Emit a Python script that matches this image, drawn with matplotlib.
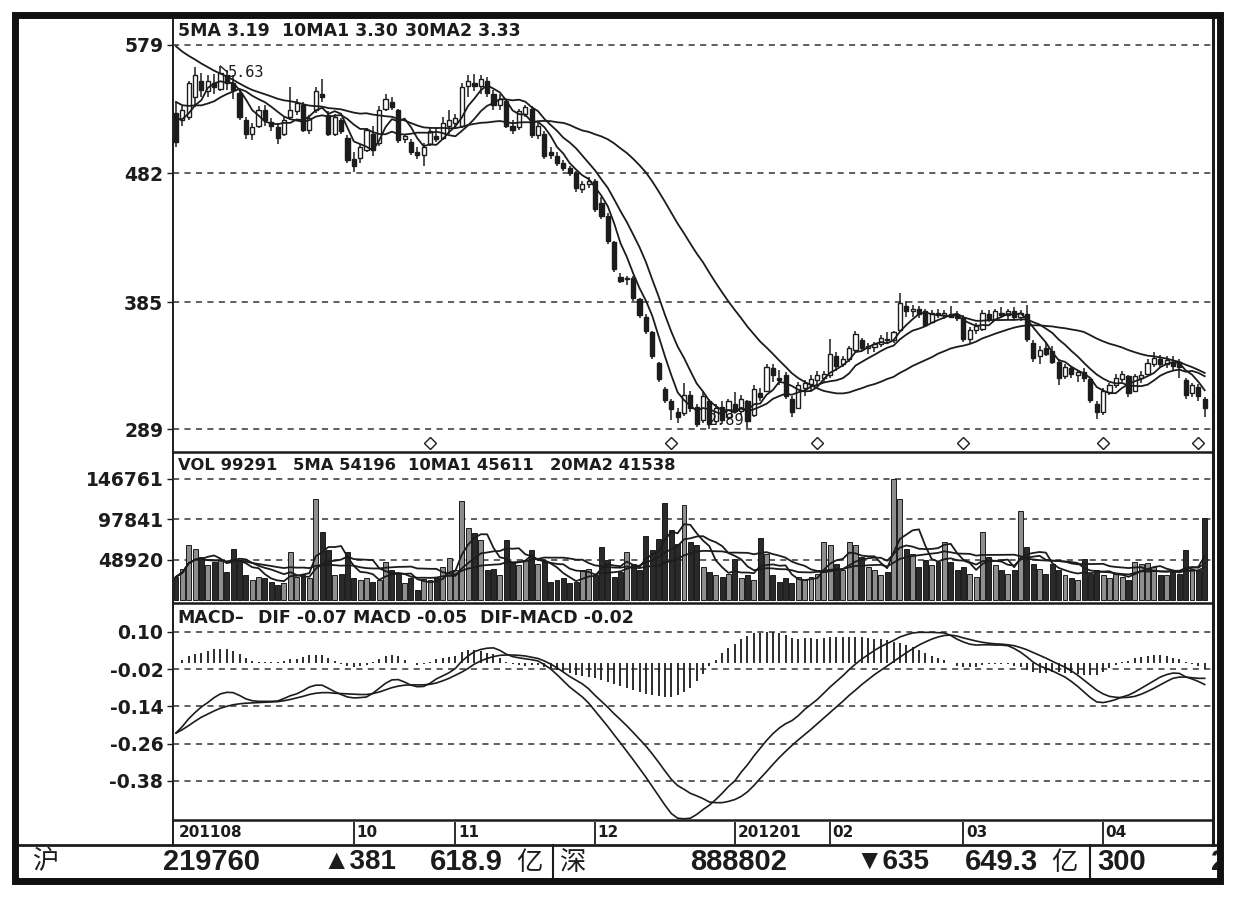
import numpy as np
import pandas as pd
import matplotlib
matplotlib.use("Agg")
import matplotlib.pyplot as plt
from matplotlib.patches import Rectangle

plt.rcParams["font.family"] = ["DejaVu Sans", "Noto Sans CJK SC"]

# -------------------------------------------------
# Data
# -------------------------------------------------

# closes before the visible window, only used to seed the moving averages
pre_close = [6.50, 6.45, 6.40, 6.36, 6.32, 6.28, 6.24, 6.20, 6.15, 6.10,
             5.90, 5.85, 5.78, 5.72, 5.66, 5.62, 5.58, 5.50,
             5.60, 5.58, 5.55, 5.55, 5.52,
             5.45, 5.38, 5.30, 5.28, 5.26, 5.25]

open_ = [5.28, 5.22, 5.25, 5.40, 5.52, 5.44, 5.50, 5.46, 5.56, 5.50,
         5.43, 5.22, 5.12, 5.18, 5.30, 5.21, 5.17, 5.12, 5.25, 5.29,
         5.34, 5.15, 5.30, 5.42, 5.26, 5.12, 5.22, 5.09, 4.93, 4.94,
         5.00, 5.12, 5.05, 5.31, 5.36, 5.30, 5.08, 5.06, 4.98, 4.96,
         5.04, 5.10, 5.09, 5.18, 5.20, 5.18, 5.48, 5.50, 5.48, 5.52,
         5.42, 5.34, 5.37, 5.18, 5.17, 5.27, 5.31, 5.11, 5.12, 4.98,
         4.95, 4.90, 4.86, 4.82, 4.70, 4.74, 4.76, 4.60, 4.50, 4.30,
         4.04, 4.02, 4.03, 3.87, 3.74, 3.62, 3.39, 3.19, 3.10, 3.02,
         3.01, 3.15, 3.06, 2.96, 3.10, 2.95, 3.06, 2.98, 3.08, 3.03,
         3.10, 3.00, 3.16, 3.18, 3.35, 3.28, 3.30, 3.12, 3.05, 3.20,
         3.23, 3.26, 3.28, 3.30, 3.44, 3.38, 3.42, 3.49, 3.56, 3.50,
         3.51, 3.53, 3.57, 3.56, 3.64, 3.82, 3.78, 3.80, 3.78, 3.70,
         3.77, 3.75, 3.76, 3.75, 3.73, 3.57, 3.64, 3.65, 3.76, 3.72,
         3.77, 3.75, 3.78, 3.74, 3.76, 3.54, 3.44, 3.50, 3.48, 3.40,
         3.29, 3.35, 3.30, 3.32, 3.27, 3.08, 3.02, 3.17, 3.22, 3.27,
         3.29, 3.18, 3.28, 3.31, 3.38, 3.42, 3.38, 3.40, 3.40, 3.26,
         3.16, 3.21, 3.12]

high = [5.36, 5.33, 5.52, 5.62, 5.58, 5.56, 5.57, 5.63, 5.60, 5.56,
        5.45, 5.25, 5.20, 5.33, 5.34, 5.24, 5.20, 5.25, 5.47, 5.38,
        5.36, 5.26, 5.47, 5.53, 5.29, 5.27, 5.24, 5.11, 4.98, 5.04,
        5.16, 5.18, 5.33, 5.42, 5.40, 5.31, 5.12, 5.08, 5.02, 5.05,
        5.16, 5.17, 5.25, 5.30, 5.27, 5.50, 5.56, 5.57, 5.56, 5.55,
        5.45, 5.42, 5.38, 5.22, 5.31, 5.34, 5.33, 5.20, 5.14, 5.02,
        4.98, 4.92, 4.88, 4.84, 4.76, 4.79, 4.78, 4.64, 4.52, 4.31,
        4.07, 4.05, 4.05, 3.88, 3.76, 3.63, 3.40, 3.21, 3.12, 3.05,
        3.24, 3.18, 3.08, 3.17, 3.12, 3.08, 3.10, 3.12, 3.17, 3.15,
        3.11, 3.22, 3.20, 3.38, 3.38, 3.34, 3.32, 3.14, 3.25, 3.26,
        3.30, 3.33, 3.33, 3.57, 3.47, 3.44, 3.52, 3.63, 3.58, 3.54,
        3.55, 3.60, 3.62, 3.63, 3.92, 3.86, 3.83, 3.82, 3.80, 3.79,
        3.80, 3.79, 3.82, 3.78, 3.75, 3.66, 3.69, 3.79, 3.79, 3.80,
        3.81, 3.80, 3.81, 3.79, 3.83, 3.56, 3.52, 3.55, 3.52, 3.42,
        3.38, 3.37, 3.34, 3.35, 3.28, 3.10, 3.20, 3.24, 3.31, 3.33,
        3.30, 3.31, 3.33, 3.42, 3.47, 3.45, 3.44, 3.44, 3.42, 3.28,
        3.24, 3.23, 3.13]

low = [5.02, 5.18, 5.22, 5.32, 5.40, 5.40, 5.42, 5.44, 5.45, 5.38,
       5.22, 5.08, 5.07, 5.16, 5.18, 5.14, 5.04, 5.10, 5.22, 5.26,
       5.13, 5.12, 5.28, 5.36, 5.10, 5.10, 5.12, 4.90, 4.83, 4.90,
       4.98, 4.95, 5.03, 5.29, 5.30, 5.05, 5.05, 4.96, 4.93, 4.88,
       5.03, 5.06, 5.07, 5.12, 5.16, 5.16, 5.40, 5.44, 5.42, 5.40,
       5.30, 5.30, 5.16, 5.12, 5.15, 5.25, 5.09, 5.08, 4.93, 4.93,
       4.88, 4.84, 4.80, 4.68, 4.67, 4.71, 4.53, 4.48, 4.29, 4.08,
       3.99, 3.98, 3.86, 3.73, 3.61, 3.42, 3.25, 3.09, 2.96, 2.94,
       2.99, 3.02, 2.91, 2.94, 2.89, 2.92, 2.93, 2.96, 3.01, 3.00,
       2.90, 2.98, 3.10, 3.17, 3.25, 3.22, 3.12, 2.98, 3.04, 3.14,
       3.18, 3.22, 3.24, 3.28, 3.33, 3.36, 3.40, 3.47, 3.48, 3.46,
       3.47, 3.51, 3.53, 3.54, 3.63, 3.74, 3.74, 3.73, 3.66, 3.69,
       3.73, 3.72, 3.73, 3.71, 3.55, 3.54, 3.61, 3.63, 3.70, 3.71,
       3.73, 3.72, 3.72, 3.71, 3.55, 3.40, 3.38, 3.44, 3.38, 3.22,
       3.27, 3.28, 3.25, 3.25, 3.09, 2.97, 3.00, 3.15, 3.20, 3.25,
       3.13, 3.17, 3.24, 3.30, 3.36, 3.36, 3.35, 3.34, 3.28, 3.12,
       3.13, 3.10, 2.98]

close = [5.06, 5.30, 5.50, 5.56, 5.45, 5.52, 5.47, 5.58, 5.50, 5.45,
         5.25, 5.12, 5.17, 5.30, 5.22, 5.18, 5.09, 5.22, 5.30, 5.35,
         5.15, 5.24, 5.44, 5.40, 5.12, 5.25, 5.14, 4.92, 4.88, 5.02,
         5.15, 5.00, 5.30, 5.38, 5.32, 5.07, 5.10, 4.98, 4.96, 5.02,
         5.14, 5.08, 5.20, 5.22, 5.24, 5.47, 5.52, 5.48, 5.53, 5.43,
         5.34, 5.38, 5.18, 5.15, 5.29, 5.32, 5.11, 5.18, 4.95, 4.96,
         4.90, 4.86, 4.82, 4.71, 4.74, 4.76, 4.55, 4.50, 4.31, 4.10,
         4.01, 4.03, 3.88, 3.75, 3.63, 3.44, 3.27, 3.11, 3.04, 2.98,
         3.15, 3.05, 2.93, 3.14, 2.93, 3.05, 2.96, 3.10, 3.03, 3.12,
         2.95, 3.19, 3.13, 3.36, 3.30, 3.26, 3.14, 3.02, 3.22, 3.24,
         3.27, 3.30, 3.31, 3.46, 3.37, 3.42, 3.50, 3.61, 3.50, 3.52,
         3.53, 3.58, 3.56, 3.62, 3.84, 3.78, 3.80, 3.76, 3.68, 3.77,
         3.75, 3.77, 3.74, 3.73, 3.57, 3.64, 3.67, 3.77, 3.72, 3.78,
         3.75, 3.78, 3.74, 3.77, 3.57, 3.43, 3.49, 3.46, 3.40, 3.28,
         3.36, 3.31, 3.32, 3.28, 3.11, 3.02, 3.18, 3.22, 3.28, 3.31,
         3.16, 3.29, 3.30, 3.39, 3.43, 3.38, 3.41, 3.37, 3.36, 3.15,
         3.22, 3.14, 3.05]

volume = [28000, 38000, 67000, 62000, 52000, 42000, 46000, 48000, 34000, 62000,
          48000, 30000, 24000, 28000, 26000, 22000, 18000, 20000, 58000, 28000,
          30000, 26000, 122000, 82000, 60000, 30000, 32000, 58000, 26000, 24000,
          26000, 22000, 24000, 46000, 36000, 32000, 20000, 26000, 12000, 25000,
          24000, 26000, 40000, 51000, 36000, 120000, 87000, 81000, 73000, 36000,
          38000, 30000, 72000, 46000, 42000, 48000, 61000, 44000, 46000, 22000,
          24000, 26000, 20000, 22000, 36000, 38000, 30000, 64000, 48000, 28000,
          34000, 58000, 44000, 36000, 77000, 60000, 74000, 117000, 84000, 68000,
          115000, 70000, 66000, 40000, 34000, 30000, 28000, 32000, 50000, 26000,
          30000, 24000, 75000, 56000, 30000, 22000, 26000, 20000, 28000, 24000,
          28000, 32000, 70000, 66000, 44000, 36000, 70000, 66000, 52000, 40000,
          36000, 30000, 34000, 146761, 122000, 62000, 56000, 40000, 48000, 42000,
          46000, 70000, 46000, 36000, 40000, 32000, 28000, 82000, 52000, 42000,
          36000, 32000, 36000, 108000, 64000, 44000, 38000, 32000, 44000, 36000,
          30000, 26000, 24000, 50000, 32000, 36000, 30000, 26000, 32000, 28000,
          24000, 46000, 44000, 45000, 40000, 30000, 30000, 34000, 32000, 60000,
          38000, 36000, 99291]

dif = [-0.226, -0.205, -0.180, -0.160, -0.142, -0.128, -0.112, -0.100, -0.095, -0.096,
       -0.105, -0.116, -0.122, -0.124, -0.124, -0.124, -0.123, -0.115, -0.106, -0.100,
       -0.090, -0.078, -0.072, -0.072, -0.082, -0.093, -0.102, -0.110, -0.113, -0.112,
       -0.110, -0.098, -0.082, -0.066, -0.055, -0.054, -0.062, -0.072, -0.077, -0.076,
       -0.066, -0.052, -0.042, -0.032, -0.018, 0.005, 0.022, 0.036, 0.043, 0.047,
       0.048, 0.040, 0.028, 0.020, 0.016, 0.013, 0.010, 0.006, -0.006, -0.020,
       -0.038, -0.058, -0.078, -0.094, -0.110, -0.130, -0.155, -0.180, -0.205, -0.232,
       -0.258, -0.285, -0.312, -0.340, -0.368, -0.398, -0.428, -0.458, -0.485, -0.500,
       -0.502, -0.500, -0.488, -0.472, -0.458, -0.440, -0.420, -0.398, -0.380, -0.352,
       -0.328, -0.300, -0.275, -0.250, -0.228, -0.210, -0.196, -0.186, -0.170, -0.150,
       -0.134, -0.118, -0.098, -0.078, -0.060, -0.042, -0.022, -0.004, 0.012, 0.026,
       0.040, 0.052, 0.062, 0.072, 0.083, 0.090, 0.096, 0.098, 0.098, 0.098,
       0.097, 0.096, 0.088, 0.076, 0.067, 0.060, 0.057, 0.058, 0.058, 0.057,
       0.057, 0.055, 0.046, 0.034, 0.019, 0.002, -0.010, -0.018, -0.026, -0.036,
       -0.046, -0.060, -0.076, -0.094, -0.112, -0.126, -0.128, -0.124, -0.118, -0.110,
       -0.104, -0.094, -0.082, -0.070, -0.058, -0.046, -0.038, -0.033, -0.034, -0.045,
       -0.052, -0.060, -0.070]

dea = [-0.226, -0.215, -0.202, -0.188, -0.175, -0.165, -0.155, -0.146, -0.140, -0.135,
       -0.132, -0.130, -0.129, -0.128, -0.127, -0.126, -0.125, -0.122, -0.118, -0.113,
       -0.108, -0.102, -0.098, -0.096, -0.096, -0.098, -0.099, -0.100, -0.101, -0.102,
       -0.102, -0.099, -0.094, -0.087, -0.080, -0.075, -0.072, -0.071, -0.071, -0.071,
       -0.069, -0.065, -0.058, -0.050, -0.040, -0.030, -0.018, -0.004, 0.006, 0.014,
       0.020, 0.024, 0.025, 0.025, 0.024, 0.022, 0.018, 0.014, 0.006, -0.004,
       -0.016, -0.030, -0.044, -0.056, -0.068, -0.084, -0.105, -0.124, -0.143, -0.164,
       -0.183, -0.203, -0.224, -0.246, -0.268, -0.293, -0.320, -0.348, -0.375, -0.395,
       -0.407, -0.420, -0.428, -0.437, -0.448, -0.450, -0.450, -0.446, -0.440, -0.430,
       -0.415, -0.395, -0.372, -0.350, -0.327, -0.305, -0.285, -0.266, -0.248, -0.231,
       -0.214, -0.196, -0.178, -0.160, -0.142, -0.124, -0.105, -0.088, -0.070, -0.054,
       -0.038, -0.024, -0.010, 0.004, 0.018, 0.032, 0.045, 0.057, 0.067, 0.076,
       0.083, 0.088, 0.089, 0.086, 0.080, 0.075, 0.070, 0.066, 0.063, 0.061,
       0.060, 0.058, 0.055, 0.049, 0.042, 0.033, 0.024, 0.015, 0.005, -0.005,
       -0.014, -0.026, -0.040, -0.056, -0.072, -0.088, -0.100, -0.108, -0.111, -0.112,
       -0.111, -0.108, -0.101, -0.092, -0.082, -0.071, -0.060, -0.050, -0.046, -0.046,
       -0.048, -0.050, -0.050]

month_idx = [0, 28, 44, 66, 88, 103, 124, 146]
month_lab = ["201108", "10", "11", "12", "201201", "02", "03", "04"]

price_ticks = [5.79, 4.82, 3.85, 2.89]
price_lab = ["579", "482", "385", "289"]
vol_ticks = [146761, 97841, 48920]
vol_lab = ["146761", "97841", "48920"]
macd_ticks = [0.10, -0.02, -0.14, -0.26, -0.38]
macd_lab = ["0.10", "-0.02", "-0.14", "-0.26", "-0.38"]

mark_idx = [40, 78, 101, 124, 146, 161]

# -------------------------------------------------
# Derived series
# -------------------------------------------------

n = len(close)
x = np.arange(n)
npre = len(pre_close)
full = pd.Series(pre_close + close)
ma5 = full.rolling(5).mean().to_numpy()[npre:]
ma10 = full.rolling(10).mean().to_numpy()[npre:]
ma30 = full.rolling(30).mean().to_numpy()[npre:]

vol = pd.Series(volume, dtype=float)
vma5 = vol.rolling(5, min_periods=1).mean()
vma10 = vol.rolling(10, min_periods=1).mean()
vma20 = vol.rolling(20, min_periods=1).mean()

macd_bar = np.array(dif) - np.array(dea)
up = np.array(close) >= np.array(open_)

# -------------------------------------------------
# Figure layout (pixel based)
# -------------------------------------------------

W, H = 1234, 898
ink = "#1c1c1c"
fig = plt.figure(figsize=(W / 100, H / 100), dpi=100)
fig.patch.set_facecolor("white")

bg = fig.add_axes([0, 0, 1, 1])
bg.set_xlim(0, W)
bg.set_ylim(H, 0)
bg.axis("off")

XL, XR = 173, 1213
xlim = ((XL - 176) / 6.35, (XR - 176) / 6.35)
tick_font = dict(family="DejaVu Sans", weight="bold", size=13.5)


def panel(y0, y1, ylim):
    ax = fig.add_axes([XL / W, 1 - y1 / H, (XR - XL) / W, (y1 - y0) / H])
    ax.set_facecolor("none")
    ax.set_xlim(*xlim)
    ax.set_ylim(*ylim)
    for s in ax.spines.values():
        s.set_visible(False)
    ax.set_xticks([])
    ax.tick_params(axis="y", length=4, width=1, color=ink, pad=3, labelcolor=ink)
    return ax


def grid(ax, ticks, labels):
    ax.set_yticks(ticks)
    ax.set_yticklabels(labels, fontdict=tick_font)
    for t in ticks:
        ax.axhline(t, color="#333333", lw=1.1, ls=(0, (4, 3.5)), zorder=1)


ax_p = panel(17, 452, (2.718, 6.001))
ax_v = panel(452, 603, (-3624, 178784))
ax_m = panel(603, 820, (-0.5058, 0.1924))
grid(ax_p, price_ticks, price_lab)
grid(ax_v, vol_ticks, vol_lab)
grid(ax_m, macd_ticks, macd_lab)

# -------------------------------------------------
# Price panel: candlesticks + MA lines
# -------------------------------------------------

bw = 0.66
for i in range(n):
    ax_p.vlines(x[i], low[i], high[i], color=ink, lw=1.1, zorder=2)
    b = min(open_[i], close[i])
    h = max(abs(close[i] - open_[i]), 0.008)
    ax_p.add_patch(Rectangle((x[i] - bw / 2, b), bw, h,
                             facecolor="white" if up[i] else ink,
                             edgecolor=ink, lw=1.0, zorder=3))

for ma in (ma5, ma10, ma30):
    ax_p.plot(x, ma, color=ink, lw=1.3, zorder=4)

ax_p.plot(mark_idx, [2.786] * len(mark_idx), ls="none", marker="D", ms=6,
          mfc="white", mec=ink, mew=1.0, zorder=5)

imax = int(np.argmax(high))
imin = int(np.argmin(low))
ax_p.plot([imax, imax + 1.1], [high[imax], high[imax] - 0.045], color=ink, lw=1.0, zorder=5)
ax_p.text(imax + 1.2, high[imax] - 0.045, f"{high[imax]:.2f}", family="DejaVu Sans Mono",
          size=11, color=ink, va="center", ha="left", zorder=6)
ax_p.text(imin - 0.3, low[imin] + 0.065, f"{low[imin]:.2f}", family="DejaVu Sans Mono",
          size=11, color=ink, va="center", ha="left", zorder=6)

# -------------------------------------------------
# Volume panel
# -------------------------------------------------

ax_v.bar(x, volume, width=0.78, color=np.where(up, "#8e8e8e", "#2a2a2a"),
         edgecolor=ink, lw=0.7, zorder=2)
for vm in (vma5, vma10, vma20):
    ax_v.plot(x, vm, color=ink, lw=1.3, zorder=3)

# -------------------------------------------------
# MACD panel
# -------------------------------------------------

ax_m.vlines(x, 0, macd_bar, color=ink, lw=1.3, zorder=2)
ax_m.plot(x, dif, color=ink, lw=1.2, zorder=3)
ax_m.plot(x, dea, color=ink, lw=1.2, zorder=3)

# -------------------------------------------------
# Month strip
# -------------------------------------------------

ax_x = fig.add_axes([XL / W, 1 - 845 / H, (XR - XL) / W, 25 / H])
ax_x.set_xlim(*xlim)
ax_x.set_ylim(1, 0)
ax_x.axis("off")
ax_x.vlines(month_idx[1:], 0.08, 0.95, color=ink, lw=1.3)
for mi, lab in zip(month_idx, month_lab):
    ax_x.text(mi + 0.4, 0.5, lab, family="DejaVu Sans", weight="bold", size=11,
              color=ink, va="center", ha="left")

# -------------------------------------------------
# Frame, separators, legends, status bar
# -------------------------------------------------

bg.add_patch(Rectangle((15, 15), 1205, 866, fill=False, edgecolor="#111111", lw=5, zorder=5))
bg.plot([XL, XL], [17, 845], color=ink, lw=1.4)
bg.plot([XR, XR], [17, 845], color=ink, lw=2.2)
for yy in (452, 603, 820):
    bg.plot([XL, XR], [yy, yy], color=ink, lw=1.8)
bg.plot([15, 1220], [845, 845], color=ink, lw=2.0)
for xx in (553, 1090):
    bg.plot([xx, xx], [845, 880], color=ink, lw=1.5)

leg = dict(family="DejaVu Sans", weight="bold", size=12.5, color=ink, va="center", ha="left")
for txt, xx in (("5MA 3.19", 178), ("10MA1 3.30", 282), ("30MA2 3.33", 405)):
    bg.text(xx, 31, txt, **leg)
leg_v = dict(leg, size=11.8)
for txt, xx in (("VOL 99291", 178), ("5MA 54196", 293), ("10MA1 45611", 408),
                ("20MA2 41538", 550)):
    bg.text(xx, 465, txt, **leg_v)
for txt, xx in (("MACD–", 177), ("DIF -0.07", 258), ("MACD -0.05", 353),
                ("DIF-MACD -0.02", 480)):
    bg.text(xx, 618, txt, **leg)

num = dict(family=["Liberation Sans", "DejaVu Sans"], weight="bold", size=21,
           color=ink, va="center", ha="left")
cjk = dict(family=["Noto Sans CJK SC", "DejaVu Sans"], size=19, color=ink,
           va="center", ha="left")
bg.text(33, 862, "沪", **cjk)
bg.text(163, 862, "219760", **num)
bg.text(322, 862, "▲381", **dict(num, size=20))
bg.text(430, 862, "618.9", **num)
bg.text(516, 862, "亿", **cjk)
bg.text(560, 862, "深", **cjk)
bg.text(690, 862, "888802", **num)
bg.text(855, 862, "▼635", **dict(num, size=20))
bg.text(965, 862, "649.3", **num)
bg.text(1051, 862, "亿", **cjk)
bg.text(1097, 862, "300", **num)
last = bg.text(1211, 862, "2", **num)
last.set_clip_on(True)
last.set_clip_path(Rectangle((0, 0), 1217, H, transform=bg.transData))

fig.savefig("out.png", dpi=100, facecolor="white")
